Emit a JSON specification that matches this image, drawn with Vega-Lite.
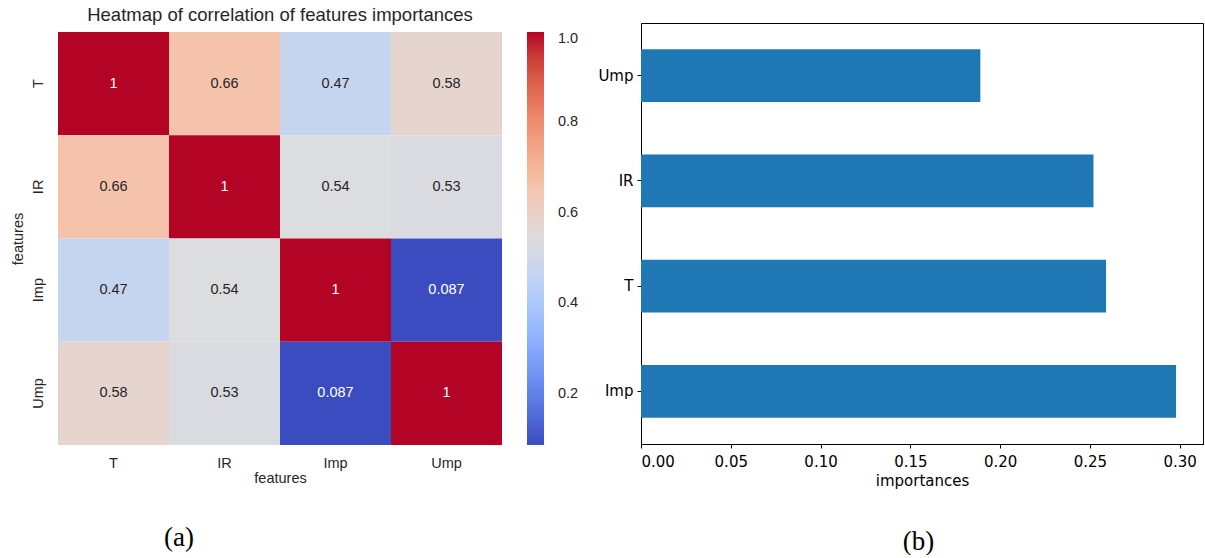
{
  "$schema": "https://vega.github.io/schema/vega-lite/v6.json",
  "background": "white",
  "padding": {"left": 10, "top": 5, "right": 0, "bottom": 0},
  "autosize": {"type": "pad"},
  "config": {"view": {"stroke": null}},
  "datasets": {
    "corr": [
      {"row": "T", "col": "T", "v": 1},
      {"row": "T", "col": "IR", "v": 0.66},
      {"row": "T", "col": "Imp", "v": 0.47},
      {"row": "T", "col": "Ump", "v": 0.58},
      {"row": "IR", "col": "T", "v": 0.66},
      {"row": "IR", "col": "IR", "v": 1},
      {"row": "IR", "col": "Imp", "v": 0.54},
      {"row": "IR", "col": "Ump", "v": 0.53},
      {"row": "Imp", "col": "T", "v": 0.47},
      {"row": "Imp", "col": "IR", "v": 0.54},
      {"row": "Imp", "col": "Imp", "v": 1},
      {"row": "Imp", "col": "Ump", "v": 0.087},
      {"row": "Ump", "col": "T", "v": 0.58},
      {"row": "Ump", "col": "IR", "v": 0.53},
      {"row": "Ump", "col": "Imp", "v": 0.087},
      {"row": "Ump", "col": "Ump", "v": 1}
    ],
    "imp": [
      {"feature": "Imp", "importance": 0.298},
      {"feature": "T", "importance": 0.259},
      {"feature": "IR", "importance": 0.252},
      {"feature": "Ump", "importance": 0.189}
    ]
  },
  "spacing": 9,
  "resolve": {"scale": {"color": "independent"}, "legend": {"color": "independent"}},
  "hconcat": [
    {
      "title": {"text": "(a)", "orient": "bottom", "anchor": "start", "font": "Liberation Serif", "fontSize": 27, "fontWeight": "normal", "color": "black", "offset": 40, "dx": 154},
      "vconcat": [
        {
          "title": {"text": "Heatmap of correlation of features importances", "font": "Liberation Sans", "fontSize": 18.5, "fontWeight": "normal", "color": "#262626", "offset": -1},
          "width": 444,
          "height": 422,
          "data": {"name": "corr"},
          "encoding": {
            "x": {"field": "col", "type": "nominal", "sort": ["T", "IR", "Imp", "Ump"], "scale": {"paddingInner": 0, "paddingOuter": 0},
              "axis": {"title": "features", "labelAngle": 0, "domain": false, "ticks": false, "labelFont": "Liberation Sans", "labelFontSize": 14.5, "labelColor": "#262626", "labelPadding": 11, "titleFont": "Liberation Sans", "titleFontSize": 14.5, "titleFontWeight": "normal", "titleColor": "#262626", "titlePadding": 2}},
            "y": {"field": "row", "type": "nominal", "sort": ["T", "IR", "Imp", "Ump"], "scale": {"paddingInner": 0, "paddingOuter": 0, "range": [9, 422]},
              "axis": {"title": "features", "labelAngle": -90, "domain": false, "ticks": false, "labelFont": "Liberation Sans", "labelFontSize": 14.5, "labelColor": "#262626", "labelPadding": 13, "titleFont": "Liberation Sans", "titleFontSize": 14.5, "titleFontWeight": "normal", "titleColor": "#262626", "titlePadding": 5}}
          },
          "layer": [
            {
              "mark": {"type": "rect"},
              "encoding": {
                "color": {"field": "v", "type": "quantitative",
                  "scale": {"domain": [0.087, 0.201125, 0.31525, 0.429375, 0.5435, 0.657625, 0.77175, 0.885875, 1.0],
                            "range": ["#3b4cc0", "#6282ea", "#8db0fe", "#b8d0f9", "#dddddd", "#f5c4ad", "#f49a7b", "#de604d", "#b40426"]},
                  "legend": {"title": null, "orient": "right", "offset": 16, "padding": 9, "direction": "vertical", "gradientLength": 413, "gradientThickness": 17, "gradientStrokeWidth": 0, "values": [0.2, 0.4, 0.6, 0.8, 1.0], "format": ".1f", "labelFont": "Liberation Sans", "labelFontSize": 14.5, "labelColor": "#262626", "labelOffset": 14}}
              }
            },
            {
              "mark": {"type": "text", "font": "Liberation Sans", "fontSize": 14.5},
              "encoding": {
                "text": {"field": "v", "type": "nominal"},
                "color": {"condition": {"test": "datum.v > 0.8 || datum.v < 0.2", "value": "white"}, "value": "#262626"}
              }
            }
          ]
        }
      ]
    },
    {
      "title": {"text": "(b)", "orient": "bottom", "anchor": "middle", "font": "Liberation Serif", "fontSize": 27, "fontWeight": "normal", "color": "black", "offset": 40, "dx": 18},
      "vconcat": [
        {
          "width": 562,
          "height": 421,
          "view": {"stroke": "black", "strokeWidth": 1},
          "data": {"name": "imp"},
          "mark": {"type": "bar", "color": "#1f77b4"},
          "encoding": {
            "y": {"field": "feature", "type": "nominal", "sort": ["Ump", "IR", "T", "Imp"], "scale": {"paddingInner": 0.5, "paddingOuter": 0.25},
              "axis": {"title": null, "labelFont": "DejaVu Sans", "labelFontSize": 15, "labelColor": "black", "domainColor": "black", "tickColor": "black", "tickSize": 4, "labelPadding": 4}},
            "x": {"field": "importance", "type": "quantitative", "scale": {"domain": [0, 0.313], "nice": false, "zero": true},
              "axis": {"title": "importances", "values": [0, 0.05, 0.1, 0.15, 0.2, 0.25, 0.3], "format": ".2f", "grid": false, "labelFont": "DejaVu Sans", "labelFontSize": 15, "labelColor": "black", "domainColor": "black", "tickColor": "black", "tickSize": 4, "labelPadding": 6, "titleFont": "DejaVu Sans", "titleFontSize": 15, "titleFontWeight": "normal", "titleColor": "black", "titlePadding": 4}}
          }
        }
      ]
    }
  ]
}
